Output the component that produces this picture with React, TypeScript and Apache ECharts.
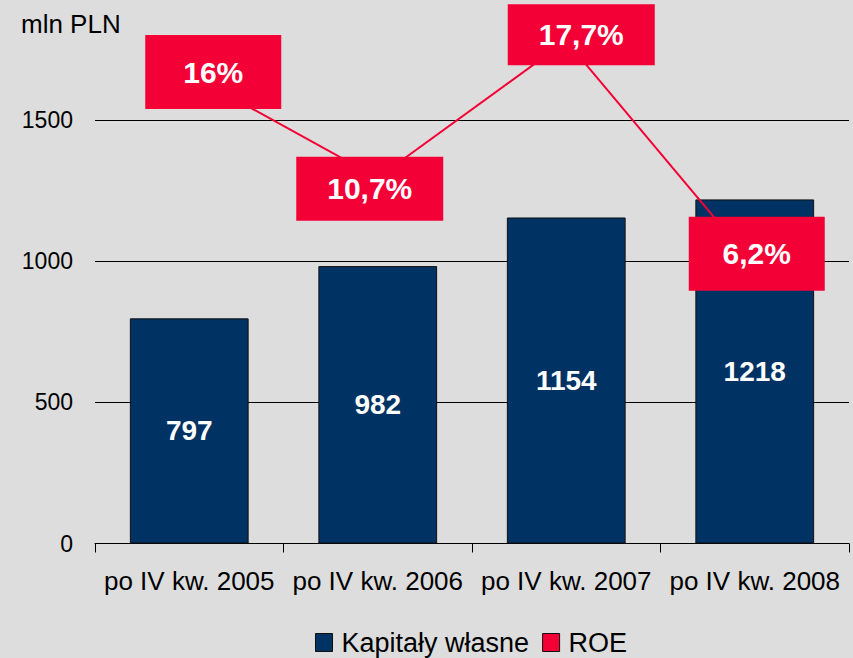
import React, { useEffect, useRef } from "react";
import * as echarts from "echarts";

const categories = ["po IV kw. 2005", "po IV kw. 2006", "po IV kw. 2007", "po IV kw. 2008"];
const equityValues = [797, 982, 1154, 1218];
const roeValues = [16, 10.7, 17.7, 6.2];
const seriesNames = ["Kapitały własne", "ROE"];

// label box layout (style only)
const roeLabelOffsets = [
  [24, -2],
  [-8, 11],
  [15, -6],
  [2, -12],
];
const roeLabelSizes = [
  [136, 74],
  [147, 64],
  [147, 61],
  [136, 74],
];

const FONT = "'Liberation Sans', Arial, Helvetica, sans-serif";
const NAVY = "#003263";
const RED = "#f30037";

export default function App() {
  const ref = useRef<HTMLDivElement>(null);

  useEffect(() => {
    if (!ref.current) return;
    const chart = echarts.init(ref.current, null, { renderer: "svg" });
    const fmtPct = (v: number) => String(v).replace(".", ",") + "%";

    const roeData = roeValues.map((v, i) => ({
      value: v,
      label: {
        offset: roeLabelOffsets[i],
        width: roeLabelSizes[i][0],
        lineHeight: roeLabelSizes[i][1],
      },
    }));

    chart.setOption({
      animation: false,
      backgroundColor: "#dddddd",
      textStyle: { fontFamily: FONT },
      title: {
        text: "mln PLN",
        left: 21,
        top: 11,
        padding: 0,
        textStyle: { fontFamily: FONT, fontSize: 26, fontWeight: "normal", color: "#000" },
      },
      legend: {
        left: 315,
        top: 629,
        padding: 0,
        itemWidth: 17,
        itemHeight: 18,
        itemGap: 13,
        textStyle: { fontFamily: FONT, fontSize: 27, color: "#000", padding: [0, 0, 0, 4] },
        data: [
          { name: seriesNames[0], icon: "rect", itemStyle: { color: NAVY, borderColor: "#111", borderWidth: 1 } },
          { name: seriesNames[1], icon: "rect", itemStyle: { color: RED, borderColor: "#111", borderWidth: 1 } },
        ],
      },
      grid: { left: 95, right: 4, top: 35, bottom: 114.5, containLabel: false },
      xAxis: {
        type: "category",
        data: categories,
        axisLine: { show: true, lineStyle: { color: "#000", width: 1 } },
        axisTick: { show: true, length: 9, lineStyle: { color: "#000", width: 1 } },
        axisLabel: { fontFamily: FONT, fontSize: 26, color: "#000", margin: 24, interval: 0 },
      },
      yAxis: [
        {
          type: "value",
          min: 0,
          max: 1800,
          interval: 500,
          axisLine: { show: false },
          axisTick: { show: false },
          axisLabel: {
            fontFamily: FONT,
            fontSize: 23,
            color: "#000",
            margin: 22,
            showMaxLabel: false,
            formatter: (v: number) => String(v),
          },
          splitLine: { show: true, showMaxLine: false, showMinLine: false, lineStyle: { color: "#000", width: 1 } },
        },
        {
          type: "value",
          min: -8,
          max: 18,
          show: false,
          splitLine: { show: false },
        },
      ],
      series: [
        {
          name: seriesNames[0],
          type: "bar",
          data: equityValues,
          barCategoryGap: "37%",
          itemStyle: { color: NAVY, borderColor: "#111", borderWidth: 1 },
          label: {
            show: true,
            position: "inside",
            color: "#fff",
            fontFamily: FONT,
            fontSize: 28,
            fontWeight: "bold",
          },
          z: 2,
        },
        {
          name: seriesNames[1],
          type: "line",
          yAxisIndex: 1,
          data: roeData,
          symbol: "circle",
          symbolSize: 8,
          showSymbol: true,
          itemStyle: { color: RED },
          lineStyle: { color: RED, width: 2 },
          label: {
            show: true,
            position: "inside",
            formatter: (p: any) => fmtPct(p.value),
            color: "#fff",
            fontFamily: FONT,
            fontSize: 30,
            fontWeight: "bold",
            backgroundColor: RED,
            padding: 0,
            align: "center",
            verticalAlign: "middle",
          },
          z: 5,
        },
      ],
    });

    return () => chart.dispose();
  }, []);

  return (
    <div
      ref={ref}
      style={{ position: "absolute", left: 0, top: 0, width: 853, height: 658 }}
    />
  );
}
